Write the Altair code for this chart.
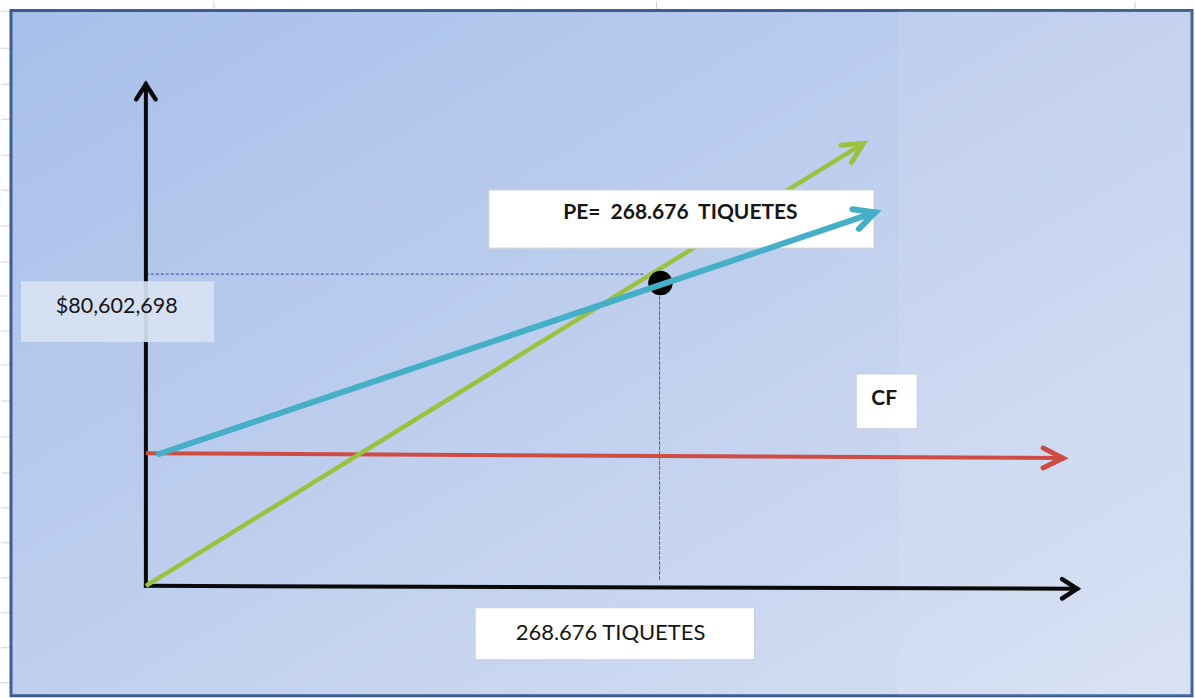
import math
import altair as alt
import pandas as pd

# ---------------- data (x = miles de tiquetes, y = millones de $) ----------------
X_DOMAIN = [-75.65, 547.78]
Y_DOMAIN = [-30.06, 155.62]
W, H = 1195, 698

# axes of the diagram
axis_y_x = [0, 0]
axis_y_y = [0, 133.5]
axis_x_x = [0, 486.2]
axis_x_y = [0, -0.8]

# series
cf_x = [0, 478.9]            # costo fijo
cf_y = [35.3, 34.0]
ventas_x = [0, 374.6]        # ingresos
ventas_y = [0, 117.8]
costo_x = [6.8, 380.8]       # costo total
costo_y = [35.1, 99.4]

# break-even point
pe_x = [268.676]
pe_y = [80.602698]

# guide lines
guide_h_x = [0, 260.8]
guide_h_y = [83.0, 83.0]
guide_v_x = [268.2, 268.2]
guide_v_y = [77.1, 1.3]

# labels
labels_text = ["PE=\u00a0 268.676\u00a0 TIQUETES", "CF", "268.676 TIQUETES", "$80,602,698"]
labels_x = [279.1, 385.5, 242.6, -47.0]
labels_y = [99.2, 49.7, -12.5, 74.2]
labels_bold = [True, True, False, False]
labels_align = ["center", "center", "center", "left"]
labels_size = [21, 21, 22, 21.5]

# label boxes [x, x2, y, y2]
box_pe = [179.0, 380.2, 105.4, 89.9]
box_cf = [370.9, 402.8, 56.4, 41.8]
box_x = [171.9, 317.8, -5.85, -19.7]
box_y = [-65.2, 35.5, 81.1, 64.9]

# frame of the picture and spreadsheet grid behind it
frame = [-70.43, 546.2, 153.2, -29.26]
right_panel = [392.8, 546.2, 153.2, -29.26]
sheet_rows = [152.96, 143.12, 133.54, 124.23, 114.65, 105.34, 95.77, 86.19, 77.15,
              67.84, 58.79, 49.21, 39.64, 30.06, 20.75, 11.44, 2.13, -7.18, -16.49, -25.80]
sheet_cols = [35.5, 266.6, 516.5]

# ---------------- helpers ----------------
XS = alt.Scale(domain=X_DOMAIN, nice=False, zero=False)
YS = alt.Scale(domain=Y_DOMAIN, nice=False, zero=False)
KX = W / (X_DOMAIN[1] - X_DOMAIN[0])
KY = H / (Y_DOMAIN[1] - Y_DOMAIN[0])


def enc_xy():
    return dict(x=alt.X("x:Q", scale=XS, axis=None), y=alt.Y("y:Q", scale=YS, axis=None))


def enc_rect():
    return dict(x=alt.X("x:Q", scale=XS, axis=None), x2="x2:Q",
                y=alt.Y("y:Q", scale=YS, axis=None), y2="y2:Q")


def rect(b, **kw):
    df = pd.DataFrame({"x": [b[0]], "x2": [b[1]], "y": [b[2]], "y2": [b[3]]})
    return alt.Chart(df).mark_rect(**kw).encode(**enc_rect())


def segment(xs, ys, color, width, **kw):
    df = pd.DataFrame({"x": [xs[0]], "x2": [xs[1]], "y": [ys[0]], "y2": [ys[1]]})
    return alt.Chart(df).mark_rule(color=color, strokeWidth=width, **kw).encode(**enc_rect())


def head(xs, ys, color, width, shape, size):
    ang = math.degrees(math.atan2(-(ys[1] - ys[0]) * KY, (xs[1] - xs[0]) * KX)) % 360
    df = pd.DataFrame({"x": [xs[1]], "y": [ys[1]], "a": [ang]})
    return alt.Chart(df).mark_point(
        shape=shape, size=size, filled=False, stroke=color, strokeWidth=width,
        strokeJoin="miter", strokeCap="round", opacity=1
    ).encode(angle=alt.Angle("a:Q", scale=None), **enc_xy())


BLACK_HEAD = "M -1 -0.65 L 0 0 L -1 0.65"
COLOR_HEAD = "M -1 -0.5 L 0 0 L -1 0.5"

GREEN = "#9bc23f"
CYAN = "#45afc7"
RED = "#cf4c45"
BLACK = "#0a0a0a"

# ---------------- layers ----------------
layers = []

# spreadsheet grid (outside the picture)
rows_df = pd.DataFrame({"y": sheet_rows, "x": X_DOMAIN[0], "x2": frame[0]})
layers.append(alt.Chart(rows_df).mark_rule(color="#d4d4d4", strokeWidth=1).encode(
    x=alt.X("x:Q", scale=XS, axis=None), x2="x2:Q", y=alt.Y("y:Q", scale=YS, axis=None)))
cols_df = pd.DataFrame({"x": sheet_cols, "y": Y_DOMAIN[1], "y2": frame[2]})
layers.append(alt.Chart(cols_df).mark_rule(color="#d4d4d4", strokeWidth=1).encode(
    x=alt.X("x:Q", scale=XS, axis=None), y=alt.Y("y:Q", scale=YS, axis=None), y2="y2:Q"))

# background frame with gradient
grad = alt.LinearGradient(
    gradient="linear", x1=0, y1=0, x2=1, y2=1,
    stops=[alt.GradientStop(color="#a7bfe9", offset=0),
           alt.GradientStop(color="#bfcfee", offset=0.5),
           alt.GradientStop(color="#d6e0f2", offset=1)])
layers.append(rect(frame, fill=grad, stroke="#3d5e91", strokeWidth=3))
layers.append(rect(right_panel, fill="white", opacity=0.08))

# guide lines
layers.append(segment(guide_h_x, guide_h_y, "#4d62a6", 1.2, strokeDash=[3, 2]))
layers.append(segment(guide_v_x, guide_v_y, "#5f6578", 1, strokeDash=[4, 1]))

# axes
layers.append(segment(axis_y_x, axis_y_y, BLACK, 4, strokeCap="square"))
layers.append(head(axis_y_x, axis_y_y, BLACK, 4.5, BLACK_HEAD, 900))
layers.append(segment(axis_x_x, axis_x_y, BLACK, 4, strokeCap="square"))
layers.append(head(axis_x_x, axis_x_y, BLACK, 4.5, BLACK_HEAD, 900))

# y value box (covers the axis)
layers.append(rect(box_y, fill="#d9e2f3", opacity=0.92))

# CF and ventas lines
layers.append(segment(cf_x, cf_y, RED, 4))
layers.append(head(cf_x, cf_y, RED, 5, COLOR_HEAD, 1600))
layers.append(segment(ventas_x, ventas_y, GREEN, 4.5))
layers.append(head(ventas_x, ventas_y, GREEN, 5, COLOR_HEAD, 1600))

# boxes
for b in (box_pe, box_cf, box_x):
    layers.append(rect(b, fill="white", stroke="#c9ccd4", strokeWidth=1))

# break-even dot
layers.append(alt.Chart(pd.DataFrame({"x": pe_x, "y": pe_y})).mark_point(
    shape="circle", size=600, filled=True, color="black", opacity=1).encode(**enc_xy()))

# costo total
layers.append(segment(costo_x, costo_y, CYAN, 6, strokeCap="round"))
layers.append(head(costo_x, costo_y, CYAN, 6, COLOR_HEAD, 1700))

# labels
for t, x, y, b, a, s in zip(labels_text, labels_x, labels_y, labels_bold, labels_align, labels_size):
    df = pd.DataFrame({"x": [x], "y": [y], "t": [t]})
    layers.append(alt.Chart(df).mark_text(
        font="Lato", fontSize=s, fontWeight="bold" if b else "normal",
        color="#161616", align=a, baseline="middle").encode(text="t:N", **enc_xy()))

chart = alt.layer(*layers).properties(
    width=W, height=H, padding=0, background="white"
).configure_view(stroke=None)

chart.save("out.html", embed_options={"renderer": "svg", "actions": False})
